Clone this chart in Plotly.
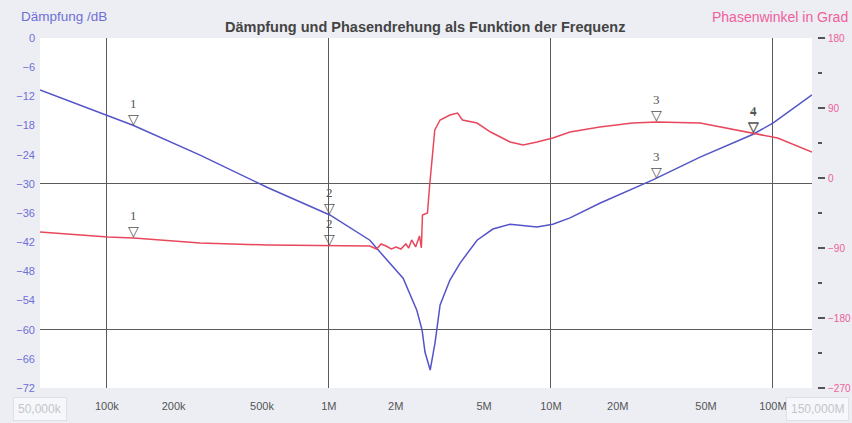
import math
import plotly.graph_objects as go

# --- Attenuation curve (dB) over frequency (Hz) ---
freq_db = [50e3, 93e3, 132e3, 263e3, 526e3, 1.01e6, 1.53e6, 1.75e6, 2.16e6, 2.49e6,
           2.63e6, 2.71e6, 2.86e6, 3.01e6, 3.17e6, 3.51e6, 3.90e6, 4.65e6, 5.48e6,
           6.55e6, 8.66e6, 10.2e6, 12.2e6, 16.6e6, 28.8e6, 47e6, 81.5e6, 100e6, 150e6]
att_db = [-10.7, -15.4, -18.0, -24.1, -30.7, -36.4, -41.6, -44.7, -49.4, -56.0,
          -60.1, -64.6, -68.3, -62.6, -54.9, -49.8, -46.3, -41.6, -39.3,
          -38.3, -38.9, -38.3, -37.0, -34.0, -29.2, -24.5, -19.8, -17.5, -11.7]

# --- Phase curve (degrees) over frequency (Hz) ---
freq_ph = [50e3, 101e3, 132e3, 263e3, 526e3, 1.01e6, 1.53e6, 1.64e6, 1.72e6, 1.81e6,
           1.91e6, 2.01e6, 2.11e6, 2.22e6, 2.29e6, 2.36e6, 2.46e6, 2.56e6, 2.61e6,
           2.64e6, 2.78e6, 2.84e6, 2.90e6, 3.00e6, 3.17e6, 3.51e6, 3.80e6, 4.00e6,
           4.65e6, 5.35e6, 6.55e6, 7.50e6, 8.66e6, 10.2e6, 12.2e6, 16.6e6, 23.3e6,
           30e6, 47e6, 62e6, 75e6, 92e6, 105e6, 150e6]
phase_deg = [-69.4, -75.8, -77.1, -83.5, -86.1, -87.4, -87.4, -91.3, -84.8, -87.4,
             -91.3, -88.7, -91.3, -84.8, -90.0, -79.7, -88.7, -74.5, -90.0,
             -47.6, -45.0, -11.6, 14.1, 61.7, 74.6, 81.0, 83.5, 74.6,
             70.7, 59.1, 46.3, 42.4, 46.3, 51.4, 59.1, 65.6, 70.7,
             72.0, 70.7, 64.3, 59.1, 55.3, 51.4, 33.4]

# --- Numbered cursors: frequency, attenuation, phase ---
cursor_ids = ["1", "2", "3", "4"]
cursor_freq = [132e3, 1.01e6, 30e6, 81.5e6]
cursor_db = [-18.0, -36.4, -29.0, -19.8]
cursor_ph = [-77.1, -87.4, 72.0, 58.0]

# --- Axis ticks ---
x_tickvals = [1e5, 2e5, 5e5, 1e6, 2e6, 5e6, 1e7, 2e7, 5e7, 1e8]
x_ticktext = ["100k", "200k", "500k", "1M", "2M", "5M", "10M", "20M", "50M", "100M"]
x_grid = [1e5, 1e6, 1e7, 1e8]
y_ticks = list(range(0, -73, -6))
y_grid = [0, -30, -60]
ph_ticks = [-270, -180, -90, 0, 90, 180]
ph_minor = [-225, -135, -45, 45, 135]
f_start, f_stop = 50e3, 150e6

BLUE = "#5454c8"
RED = "#e8485c"
DB_TXT = "#6f6fd4"
PH_TXT = "#f0609a"
GRID = "#5a5a5a"

# page layout (pixels)
W, H = 852, 423
ML, MR, MT, MB = 40, 35, 38, 35
PW, PH = W - ML - MR, H - MT - MB
PLOT_RIGHT = 812


def px(x):
    return (x - ML) / PW


def py(y):
    return (H - MB - y) / PH


fig = go.Figure()
fig.add_trace(go.Scatter(x=freq_db, y=att_db, mode="lines",
                         line=dict(color=BLUE, width=1.5), yaxis="y"))
fig.add_trace(go.Scatter(x=freq_ph, y=phase_deg, mode="lines",
                         line=dict(color=RED, width=1.5), yaxis="y2"))

# cursor triangles with their numbers above
for cid, f, d, p in zip(cursor_ids, cursor_freq, cursor_db, cursor_ph):
    for yref, val in (("y", d), ("y2", p)):
        fig.add_annotation(x=math.log10(f), y=val, xref="x", yref=yref,
                           text="▽", showarrow=False, yanchor="bottom",
                           yshift=-3, font=dict(family="DejaVu Sans", size=14, color="#555"))
        fig.add_annotation(x=math.log10(f), y=val, xref="x", yref=yref,
                           text=cid, showarrow=False, yanchor="bottom",
                           yshift=13, font=dict(family="Liberation Serif", size=13, color="#555"))

# header texts
fig.add_annotation(x=px(425), y=py(17), xref="paper", yref="paper",
                   text="<b>Dämpfung und Phasendrehung als Funktion der Frequenz</b>",
                   showarrow=False, font=dict(family="Liberation Sans", size=14.5, color="#444"))
fig.add_annotation(x=px(19), y=py(17), xref="paper", yref="paper", text="Dämpfung /dB",
                   showarrow=False, xanchor="left", yanchor="middle",
                   font=dict(family="Liberation Sans", size=13.5, color=DB_TXT))
fig.add_annotation(x=px(710), y=py(17), xref="paper", yref="paper", text="Phasenwinkel in Grad",
                   showarrow=False, xanchor="left", yanchor="middle",
                   font=dict(family="Liberation Sans", size=14, color=PH_TXT))

# boxed start/stop frequency labels
for txt, xc in (("50,000k", 40), ("150,000M", 817)):
    fig.add_annotation(x=px(xc), y=py(409), xref="paper", yref="paper", text=txt,
                       showarrow=False, xanchor="center", yanchor="middle",
                       font=dict(family="Liberation Sans", size=12, color="#c2c6ce"),
                       bgcolor="#f6f7fa", bordercolor="#dde0e6", borderwidth=1, borderpad=4)

fig.update_layout(
    width=W, height=H,
    margin=dict(l=ML, r=MR, t=MT, b=MB, autoexpand=False),
    paper_bgcolor="#eceef4",
    plot_bgcolor="#ffffff",
    showlegend=False,
    xaxis=dict(type="log", range=[math.log10(f_start), math.log10(f_stop)],
               domain=[0, (PLOT_RIGHT - ML) / PW], automargin=False,
               tickmode="array", tickvals=x_tickvals, ticktext=x_ticktext,
               showgrid=False, zeroline=False, showline=False, ticks="",
               ticklabelstandoff=10,
               tickfont=dict(family="Liberation Sans", size=11, color="#555"),
               minor=dict(tickmode="array", tickvals=x_grid, showgrid=True,
                          gridcolor=GRID, gridwidth=1, ticks="")),
    yaxis=dict(range=[-72, 0], tickmode="array", tickvals=y_ticks, automargin=False,
               showgrid=False, zeroline=False, showline=False, ticks="",
               ticklabelstandoff=4,
               tickfont=dict(family="Liberation Sans", size=11, color=DB_TXT),
               minor=dict(tickmode="array", tickvals=y_grid, showgrid=True,
                          gridcolor=GRID, gridwidth=1, ticks="")),
    yaxis2=dict(range=[-270, 180], overlaying="y", side="right", anchor="free", position=1,
                automargin=False,
                tickmode="array", tickvals=ph_ticks, showgrid=False, zeroline=False,
                showline=False, ticks="outside", ticklen=7, tickcolor="#555", tickwidth=1.5,
                ticklabelstandoff=1,
                tickfont=dict(family="Liberation Sans", size=10, color=PH_TXT),
                minor=dict(tickmode="array", tickvals=ph_minor, ticks="outside",
                           ticklen=4, tickcolor="#555", showgrid=False)),
)

fig.write_html("out.html")
